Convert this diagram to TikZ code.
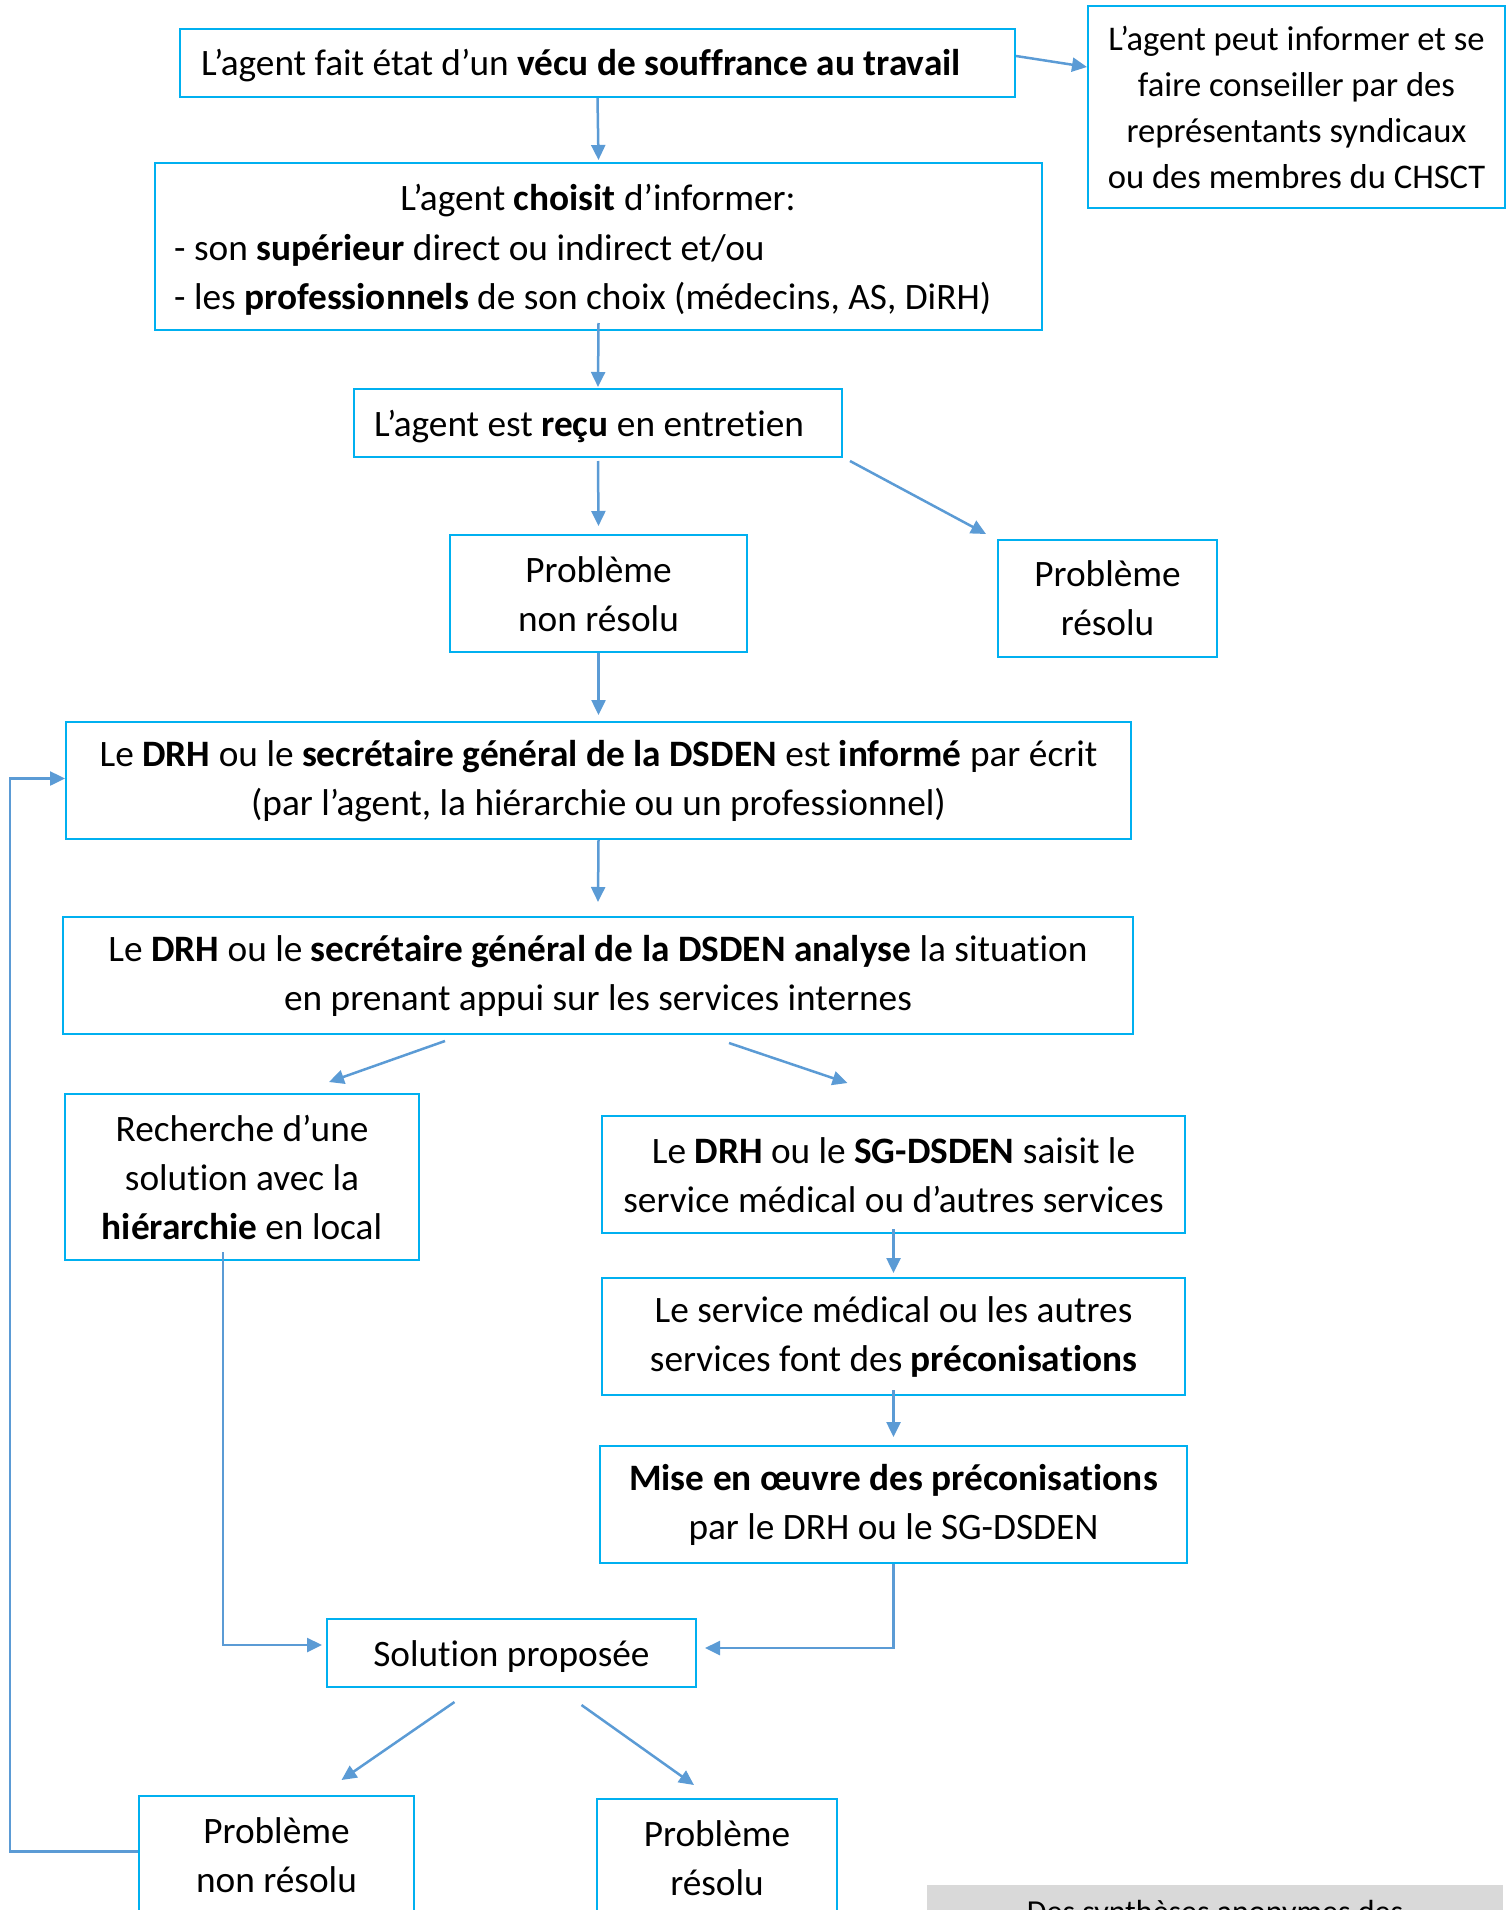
\documentclass[tikz,border=0pt]{standalone}
\usepackage{fontspec}
\setmainfont{Carlito}[RawFeature={-liga}]
\usetikzlibrary{arrows.meta,calc}
\definecolor{boxc}{HTML}{00B0F0}
\definecolor{arrc}{HTML}{5B9BD5}
\definecolor{grayc}{HTML}{D9D9D9}
\tikzset{
  box/.style={draw=boxc, line width=2pt, inner sep=0pt},
  txt/.style={inner sep=0pt, align=center, font=\fontsize{37.3}{49}\selectfont},
  arr/.style={draw=arrc, line width=2.5pt, -{Triangle[length=15pt,width=14pt]}},
}
\begin{document}
\begin{tikzpicture}[x=1pt,y=-1pt]
\useasboundingbox (0,0) rectangle (1507,1910);
\clip (0,0) rectangle (1507,1910);
% boxes
\node[box, minimum width=835, minimum height=68] (top) at (597.5,63) {};
\node[txt, anchor=west] (toptxt) at (201,66) {L’agent fait état d’un \textbf{vécu de souffrance au travail}};
\node[box, minimum width=417, minimum height=202] (conseil) at (1296.5,107) {};
\node[txt, font=\fontsize{34.6}{46}\selectfont] (conseiltxt) at (1296.5,107) {L’agent peut informer et se\\faire conseiller par des\\représentants syndicaux\\ou des membres du CHSCT};
\node[box, minimum width=887, minimum height=167] (choix) at (598.5,246.5) {};
\node[txt] (choix1) at (598,201) {L’agent \textbf{choisit} d’informer:};
\node[txt, anchor=west] (choix2) at (174,250) {- son \textbf{supérieur} direct ou indirect et/ou};
\node[txt, anchor=west] (choix3) at (174,299) {- les \textbf{professionnels} de son choix (médecins, AS, DiRH)};
\node[box, minimum width=488, minimum height=68] (recu) at (598,423) {};
\node[txt, anchor=west] (recutxt) at (374,427) {L’agent est \textbf{reçu} en entretien};
\node[box, minimum width=297, minimum height=117] (nr1) at (598.5,593.5) {};
\node[txt] (nr1txt) at (598.5,594) {Problème\\non résolu};
\node[box, minimum width=219, minimum height=117] (r1) at (1107.5,598.5) {};
\node[txt] (r1txt) at (1107.5,598.5) {Problème\\résolu};
\node[box, minimum width=1065, minimum height=117] (informe) at (598.5,780.5) {};
\node[txt] (informetxt) at (598.5,781) {Le \textbf{DRH} ou le \textbf{secrétaire général de la DSDEN} est \textbf{informé} par écrit\\(par l’agent, la hiérarchie ou un professionnel)};
\node[box, minimum width=1070, minimum height=117] (analyse) at (598,975.5) {};
\node[txt] (analysetxt) at (598,976) {Le \textbf{DRH} ou le \textbf{secrétaire général de la DSDEN analyse} la situation\\en prenant appui sur les services internes};
\node[box, minimum width=354, minimum height=166] (recherche) at (242,1177) {};
\node[txt] (recherchetxt) at (242,1177) {Recherche d’une\\solution avec la\\\textbf{hiérarchie} en local};
\node[box, minimum width=583, minimum height=117] (saisit) at (893.5,1174.5) {};
\node[txt] (saisittxt) at (893.5,1175) {Le \textbf{DRH} ou le \textbf{SG-DSDEN} saisit le\\service médical ou d’autres services};
\node[box, minimum width=583, minimum height=117] (medical) at (893.5,1336.5) {};
\node[txt] (medicaltxt) at (893.5,1337) {Le service médical ou les autres\\services font des \textbf{préconisations}};
\node[box, minimum width=587, minimum height=117] (mise) at (893.5,1504.5) {};
\node[txt] (misetxt) at (893.5,1505) {\textbf{Mise en œuvre des préconisations}\\par le DRH ou le SG-DSDEN};
\node[box, minimum width=369, minimum height=68] (solution) at (511.5,1653) {};
\node[txt] (solutiontxt) at (511.5,1657) {Solution proposée};
\node[box, minimum width=275, minimum height=117] (nr2) at (276.5,1854.5) {};
\node[txt] (nr2txt) at (276.5,1855) {Problème\\non résolu};
\node[box, minimum width=240, minimum height=117] (r2) at (717,1857.5) {};
\node[txt] (r2txt) at (717,1858) {Problème\\résolu};
\node[fill=grayc, minimum width=576, minimum height=80, anchor=north west, inner sep=0pt] (gris) at (927,1885) {};
\node[txt, font=\fontsize{32}{42}\selectfont] (gristxt) at (1215,1914) {Des synthèses anonymes des};
% connectors
\draw[arr] ($(top.east)+(0,-7)$) -- ($(conseil.west)+(0,-40)$);
\draw[arr] (top.south) -- ($(choix.north)+(0,-2)$);
\draw[arr] ($(choix.south)+(0,-8)$) -- ($(recu.north)+(0,-1)$);
\draw[arr] ($(recu.south)+(0,3)$) -- ($(nr1.north)+(0,-8)$);
\draw[arr] ($(recu.south east)+(7,3)$) -- ($(r1.north west)+(-11,-5)$);
\draw[arr] (nr1.south) -- ($(informe.north)+(0,-6)$);
\draw[arr] (informe.south) -- ($(analyse.north)+(0,-14)$);
\draw[arr] ($(analyse.south)+(-153,6)$) -- ($(recherche.north)+(87,-11)$);
\draw[arr] ($(analyse.south)+(131,8)$) -- ($(saisit.north)+(-46,-32)$);
\draw[arr] ($(saisit.south)+(0,-5)$) -- ($(medical.north)+(0,-4)$);
\draw[arr] ($(medical.south)+(0,-6)$) -- ($(mise.north)+(0,-8)$);
\coordinate (c1) at (223,0);
\coordinate (c2) at (0,1645);
\draw[arr] ($(recherche.south -| c1)+(0,-9)$) -- (c1 |- c2) -- ($(solution.west)+(-4,-8)$);
\coordinate (c3) at (0,1648);
\draw[arr] (mise.south) -- (mise.south |- c3) -- ($(solution.east)+(8,-5)$);
\draw[arr] ($(solution.south)+(-57,14)$) -- ($(nr2.north)+(65,-15)$);
\draw[arr] ($(solution.south)+(70,17)$) -- ($(r2.north)+(-23,-13)$);
\coordinate (fb) at (10,0);
\draw[arr] ($(nr2.west)+(0,-3)$) -- ($(nr2.west -| fb)+(0,-3)$) |- ($(informe.west)+(0,-2)$);
\end{tikzpicture}
\end{document}
